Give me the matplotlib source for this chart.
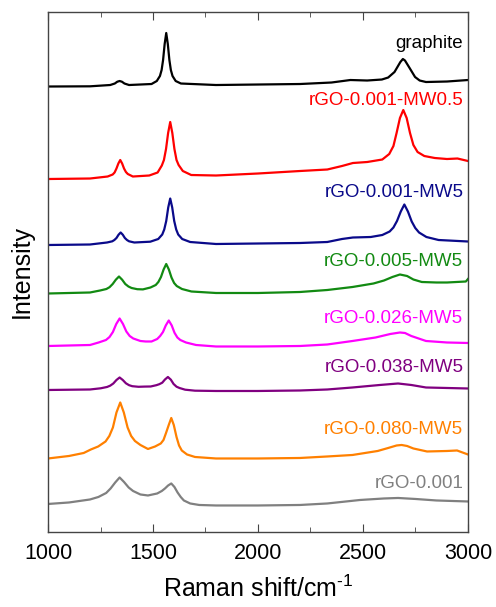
import matplotlib
matplotlib.use("Agg")
import matplotlib.pyplot as plt
from matplotlib.ticker import MultipleLocator

plt.rcParams['font.family'] = ['Liberation Sans', 'DejaVu Sans']
plt.rcParams['mathtext.fontset'] = 'custom'
plt.rcParams['mathtext.rm'] = 'Liberation Sans'

# Raman spectra (intensity in arbitrary, stacked units)
x_graphite = [1000, 1200, 1296, 1318, 1330, 1341, 1352, 1364, 1386, 1493, 1518, 1533, 1541, 1548, 1555.5, 1563,
              1570.5, 1578, 1585, 1593, 1608, 1633, 1800, 2000, 2200, 2350, 2440, 2520, 2590, 2620, 2650, 2678,
              2690, 2700, 2722, 2748, 2770, 2800, 2900, 3000]
y_graphite = [445.5, 445.7, 447, 448.5, 450.3, 451, 450.3, 448.5, 447, 448, 451, 456, 462, 472, 488, 499,
              488, 472, 462, 456, 451, 448.5, 447, 447.5, 448, 449.5, 452, 451.5, 452.5, 454.5, 460, 470,
              473, 471.5, 464, 455, 451.5, 450, 450.5, 452]

x_mw05 = [1000, 1200, 1284, 1308, 1317, 1326, 1335, 1344, 1353, 1362, 1371, 1380, 1404, 1482, 1522, 1542,
          1552, 1562, 1572, 1582, 1592, 1602, 1612, 1622, 1642, 1682, 1800, 2000, 2200, 2330, 2400, 2452,
          2520, 2592, 2625, 2645, 2660, 2676, 2692, 2708, 2724, 2740, 2760, 2792, 2842, 2900, 2950, 3000]
y_mw05 = [353, 353.5, 355.5, 357.5, 359.5, 363.5, 368.5, 372, 368.5, 363.5, 360, 358, 355.5, 356.5, 359.5, 366.5,
          372, 383, 399, 410, 399, 383, 372, 367, 361, 357, 356.5, 358.5, 361, 362.5, 366, 369,
          370, 372.5, 378, 386, 399, 414, 422, 414, 399, 387, 380, 376, 374, 373, 373.5, 371]

x_001 = [1000, 1200, 1281, 1306, 1316, 1326, 1336, 1346, 1356, 1366, 1376, 1386, 1411, 1487, 1525, 1544,
         1553.5, 1563, 1572.5, 1582, 1591.5, 1601, 1610.5, 1620, 1639, 1677, 1800, 2000, 2200, 2330, 2400,
         2452, 2537, 2592, 2627, 2645, 2662, 2680, 2697, 2714, 2732, 2749, 2767, 2802, 2860, 3000]
y_001 = [287, 287.5, 289.5, 290.7, 292, 294, 297.3, 299.5, 297.3, 294, 292, 290.7, 289.5, 290.3, 293, 297.5,
         302.5, 311, 324.5, 333.5, 324.5, 311, 302.5, 297.5, 293, 290, 288, 288.5, 289, 290, 293,
         294.5, 295, 297, 300.5, 304.5, 311, 320.5, 327.5, 320.5, 310.5, 304, 299.5, 295, 292, 290.5]

x_005 = [1000, 1200, 1248, 1278, 1293, 1308, 1323, 1338, 1353, 1368, 1383, 1398, 1425, 1452, 1488, 1513,
         1525.5, 1538, 1550.5, 1563, 1575.5, 1588, 1600.5, 1613, 1638, 1683, 1800, 2000, 2200, 2330, 2450,
         2550, 2600, 2640, 2676, 2710, 2740, 2780, 2850, 2900, 2990, 3000]
y_005 = [238.5, 239.5, 241.5, 243, 244.8, 248, 252.3, 255.5, 252.3, 248, 245.5, 244, 242.8, 242.6, 244.5, 247,
         250, 255, 262.5, 268, 262.5, 254.5, 249, 246, 243, 240.5, 239, 239, 240, 242, 245,
         248.5, 251.5, 255, 257.5, 256, 252.5, 250, 249.5, 249.5, 250.5, 253]

x_026 = [1000, 1200, 1241, 1276, 1293, 1309, 1325, 1341, 1357, 1373, 1389, 1406, 1440, 1465, 1493, 1520,
         1534, 1547.5, 1561, 1575, 1589, 1602.5, 1616, 1630, 1657, 1705, 1800, 2000, 2200, 2330, 2450, 2560,
         2600, 2630, 2676, 2700, 2730, 2800, 2900, 3000]
y_026 = [186, 187, 189.5, 192, 195, 200, 208, 213.5, 208, 200.5, 196, 193.5, 191, 190.5, 190.5, 193,
         196, 200, 206.6, 211.5, 206.6, 199.2, 194.5, 192, 189.5, 187, 185.5, 185.5, 186, 187.5, 191, 194.5,
         196.5, 198, 199.5, 199, 196, 191, 189.5, 189]

x_038 = [1000, 1200, 1251, 1281, 1296, 1311, 1326, 1341, 1356, 1371, 1386, 1401, 1431, 1460, 1489, 1516,
         1530, 1544, 1557, 1571, 1585, 1598, 1612, 1626, 1653, 1700, 1800, 2000, 2200, 2330, 2450, 2580,
         2667, 2730, 2800, 2900, 3000]
y_038 = [142, 142.5, 143.7, 145, 146.3, 148.5, 152, 154.5, 152, 148.7, 146.8, 145.8, 145.2, 145.4, 145.5, 146.8,
         147.8, 149.3, 152.5, 155, 152.3, 148, 145.3, 144, 142.3, 141.3, 141, 141, 141.5, 142.5, 144.5, 147,
         148.5, 147, 144.5, 144, 143.5]

x_080 = [1000, 1100, 1170, 1204, 1239, 1274, 1292, 1309, 1326, 1344, 1361, 1379, 1396, 1414, 1440, 1476,
         1510, 1537, 1550, 1562, 1575, 1587, 1599, 1612, 1624, 1637, 1662, 1700, 1800, 2000, 2200, 2330,
         2450, 2570, 2620, 2660, 2684, 2710, 2740, 2805, 2900, 2948, 3000]
y_080 = [73.5, 76, 79, 82.5, 85.5, 90.5, 96, 104.5, 119.5, 129.5, 119.5, 104.5, 96, 91, 87, 83,
         85.5, 88.5, 92, 99, 107, 114, 107, 95, 86.5, 81.5, 77.5, 75, 73.5, 73.5, 74, 75.5,
         77, 81, 84, 86.5, 87, 86, 83.5, 80.5, 81, 81.5, 77.5]

x_rgo = [1000, 1100, 1200, 1240, 1277, 1298, 1320, 1341, 1362, 1384, 1405, 1440, 1476, 1520, 1542, 1557,
         1572, 1587, 1602, 1617, 1632, 1647, 1677, 1720, 1800, 2000, 2200, 2330, 2486, 2600, 2667, 2750,
         2850, 3000]
y_rgo = [28, 29.5, 32.5, 35, 39, 43.5, 49.5, 54.5, 50, 44.5, 41, 37.5, 36.5, 38.5, 41, 43.5,
         46.5, 48.5, 45, 39.5, 35, 31.5, 28.5, 27, 26.5, 26.5, 27, 28.5, 32, 33.5, 34, 33,
         31.5, 30.5]

names = ['graphite', 'rGO-0.001-MW0.5', 'rGO-0.001-MW5', 'rGO-0.005-MW5',
         'rGO-0.026-MW5', 'rGO-0.038-MW5', 'rGO-0.080-MW5', 'rGO-0.001']
label_y = [489, 432, 340, 270, 213, 164, 102, 48]
colors = ['black', '#ff0000', '#0a0a8a', '#128a12', '#ff00ff', '#800080', '#ff8000', '#808080']
spectra = [(x_graphite, y_graphite), (x_mw05, y_mw05), (x_001, y_001), (x_005, y_005),
           (x_026, y_026), (x_038, y_038), (x_080, y_080), (x_rgo, y_rgo)]

fig = plt.figure(figsize=(4.96, 6.07), dpi=100)
ax = fig.add_axes([0.0968, 0.1236, 0.8467, 0.8566])

for (xs, ys), name, c, ly in zip(spectra, names, colors, label_y):
    ax.plot(xs, ys, color=c, lw=1.6, solid_joinstyle='round')
    ax.text(2978, ly, name, color=c, fontsize=13.5, ha='right', va='center')

ax.set_xlim(1000, 3000)
ax.set_ylim(0, 520)
ax.xaxis.set_major_locator(MultipleLocator(500))
ax.xaxis.set_minor_locator(MultipleLocator(250))
ax.set_yticks([])
ax.tick_params(axis='x', which='both', direction='in', top=True, labelsize=15.5, pad=8, color='#444444')
ax.tick_params(axis='x', which='major', length=6)
ax.tick_params(axis='x', which='minor', length=3.5)
for s in ax.spines.values():
    s.set_color('#444444')
    s.set_linewidth(1.0)

ax.set_xlabel('Raman shift/cm$^{\\text{-1}}$', fontsize=18, labelpad=8)
ax.set_ylabel('Intensity', fontsize=18, labelpad=10)

fig.savefig('out.png', dpi=100)
